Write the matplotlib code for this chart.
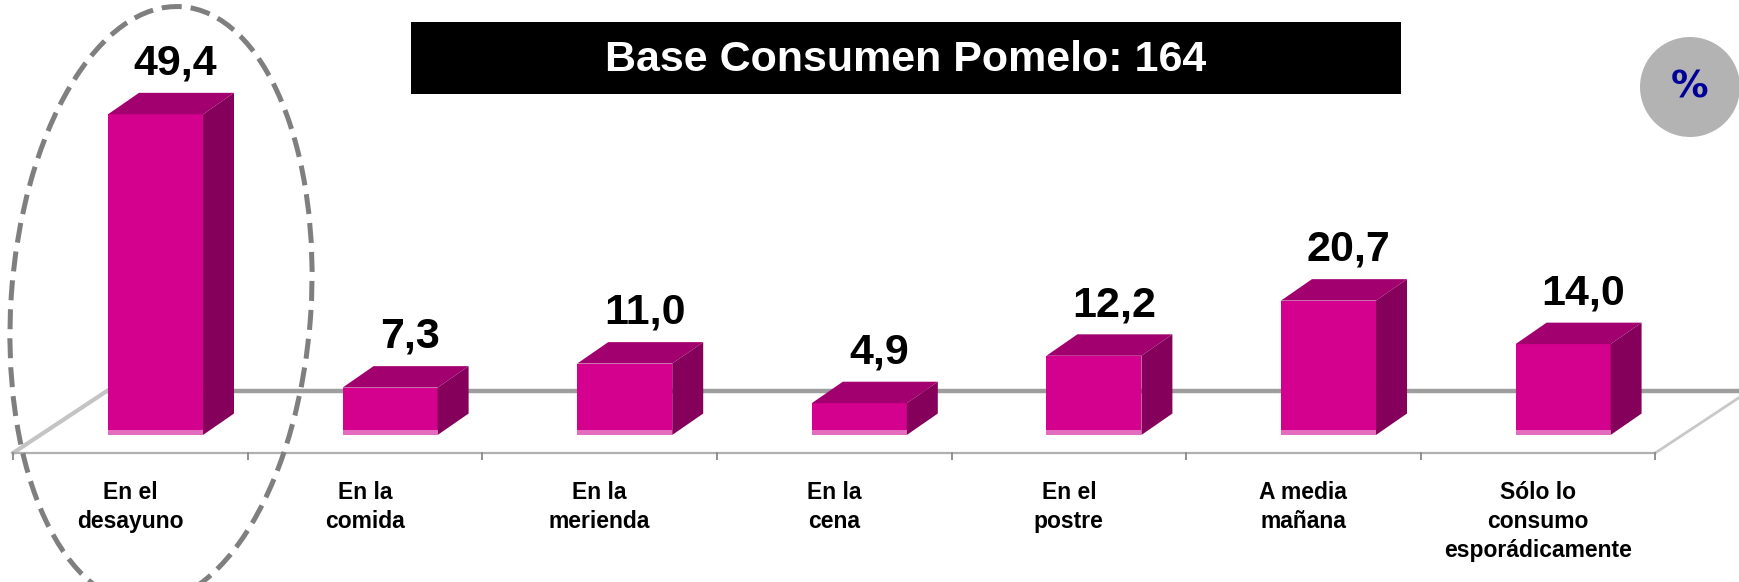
import matplotlib
matplotlib.use('Agg')
import matplotlib.pyplot as plt
from matplotlib.patches import Polygon, Rectangle, Circle, Ellipse

# data
categories = ['En el\ndesayuno', 'En la\ncomida', 'En la\nmerienda', 'En la\ncena',
              'En el\npostre', 'A media\nmañana', 'Sólo lo\nconsumo\nesporádicamente']
values = [49.4, 7.3, 11.0, 4.9, 12.2, 20.7, 14.0]
title = 'Base Consumen Pomelo: 164'

# colours
FRONT = '#D4008E'
TOP = '#A2006F'
SIDE = '#85005B'
SHINE = '#E46CBE'

# pseudo 3d geometry, in data units
BAR_W = 0.405
BAR_SHIFT = 0.107        # bar front sits a bit behind the floor front edge
DEP_X, DEP_Y = 0.132, 3.3
FLOOR_FRONT = -2.77
FLOOR_BACK = 6.78
FLOOR_DX = 0.40

fig = plt.figure(figsize=(17.4, 5.82), dpi=100)
ax = fig.add_axes([0, 0, 1, 1])
ax.set_xlim(-0.556, 6.861)
ax.set_ylim(-22.65, 67.0)
ax.axis('off')

n = len(values)
xs = list(range(n))

# floor
ax.plot([-0.5 + FLOOR_DX, n - 0.5 + FLOOR_DX], [FLOOR_BACK, FLOOR_BACK],
        color='#9E9E9E', lw=3.2, zorder=1, solid_capstyle='butt')
ax.plot([-0.5, -0.5 + FLOOR_DX], [FLOOR_FRONT, FLOOR_BACK], color='#C4C4C4', lw=3, zorder=1)
ax.plot([n - 0.5, n - 0.5 + FLOOR_DX], [FLOOR_FRONT, FLOOR_BACK], color='#C8C8C8', lw=2, zorder=1)
ax.plot([-0.5, n - 0.5], [FLOOR_FRONT, FLOOR_FRONT], color='#B0B0B0', lw=1.6, zorder=1)
for k in range(n + 1):
    ax.plot([k - 0.5, k - 0.5], [FLOOR_FRONT, FLOOR_FRONT - 1.0], color='#909090', lw=1.4, zorder=1)

# bars
fx = [x + BAR_SHIFT for x in xs]
ax.bar(fx, values, width=BAR_W, color=FRONT, zorder=3)
ax.bar(fx, [0.7] * n, width=BAR_W, color=SHINE, zorder=3.5)
for x, v in zip(fx, values):
    xl, xr = x - BAR_W / 2, x + BAR_W / 2
    ax.add_patch(Polygon([(xl, v), (xr, v), (xr + DEP_X, v + DEP_Y), (xl + DEP_X, v + DEP_Y)],
                         closed=True, facecolor=TOP, edgecolor='none', zorder=3))
    ax.add_patch(Polygon([(xr, 0), (xr + DEP_X, DEP_Y), (xr + DEP_X, v + DEP_Y), (xr, v)],
                         closed=True, facecolor=SIDE, edgecolor='none', zorder=3))
    ax.text(x + 0.085, v + DEP_Y + 2.8, f'{v:.1f}'.replace('.', ','), ha='center', va='baseline',
            fontsize=31, fontweight='bold', family='Liberation Sans', zorder=5)

# category labels
for x, lab in zip(xs, categories):
    ax.text(x, FLOOR_FRONT - 4.3, lab, ha='center', va='top', multialignment='center',
            fontsize=16.5, fontweight='bold', family='Liberation Sans', linespacing=1.33)

# title box
fig.patches.append(Rectangle((0.236, 0.8385), 0.569, 0.1237, transform=fig.transFigure,
                             facecolor='black', edgecolor='none', zorder=0))
fig.text(0.5204, 0.897, title, ha='center', va='center', color='white', fontsize=31,
         fontweight='bold', family='Liberation Sans')

# % badge
fig.patches.append(Circle((16.9, 4.95), 0.5, transform=fig.dpi_scale_trans,
                          facecolor='#B3B3B3', edgecolor='none'))
fig.text(16.9 / 17.4, 4.95 / 5.82, '%', ha='center', va='center', color='#000099',
         fontsize=27, fontweight='bold', family='DejaVu Sans')

# dashed highlight around the first bar (slightly tilted)
fig.patches.append(Ellipse((1.61, 2.77), 3.0, 5.98, angle=-4, transform=fig.dpi_scale_trans,
                           facecolor='none', edgecolor='#7F7F7F', lw=3.6,
                           linestyle=(0, (4, 1.8)), zorder=10))

fig.savefig('out.png', dpi=100)
